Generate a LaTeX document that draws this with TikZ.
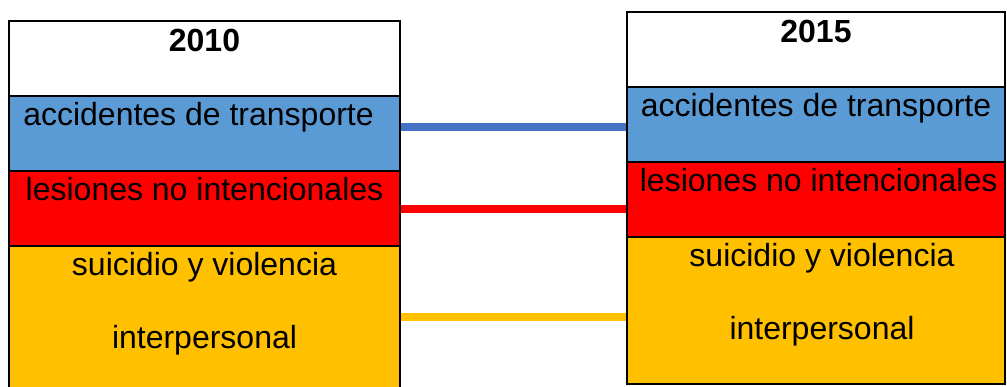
\documentclass[tikz,border=0pt]{standalone}
\usepackage{fontspec}
\setmainfont{Liberation Sans}
\usetikzlibrary{positioning}

\definecolor{bandblue}{HTML}{5B9BD5}
\definecolor{linkblue}{HTML}{4472C4}
\definecolor{bandred}{HTML}{FF0000}
\definecolor{bandyellow}{HTML}{FFC000}

\begin{document}
\begin{tikzpicture}[%
        x=0.75pt, y=-0.75pt,
        box/.style={rectangle, draw=black, line width=1.5pt, outer sep=0pt, inner sep=0pt, minimum height=56.25pt},
        left/.style={box, minimum width=293.25pt},
        right/.style={box, minimum width=283.5pt},
        head/.style={font=\fontsize{24}{28}\selectfont\bfseries, anchor=base},
        lbl/.style={font=\fontsize{24}{28}\selectfont, anchor=base},
        link/.style={line width=6pt, shorten <=0.75pt, shorten >=0.75pt}]
        \useasboundingbox (0,0) rectangle (1007,386);
        \clip (0,0) rectangle (1007,386);

        % 2010 column
        \node [left, fill=white, anchor=north west] (hdr10) at (9,21) {};
        \node [left, fill=bandblue, below=0pt of hdr10] (acc10) {};
        \node [left, fill=bandred, below=0pt of acc10] (les10) {};
        \node [left, fill=bandyellow, below=0pt of les10, minimum height=106.5pt] (sui10) {};

        % 2015 column
        \node [right, fill=white, anchor=north west] (hdr15) at (627,12) {};
        \node [right, fill=bandblue, below=0pt of hdr15] (acc15) {};
        \node [right, fill=bandred, below=0pt of acc15] (les15) {};
        \node [right, fill=bandyellow, below=0pt of les15, minimum height=110.25pt] (sui15) {};

        % Labels
        \node [head] (yr10) at ([yshift=-23pt]hdr10.north) {2010};
        \node [head] (yr15) at ([yshift=-23pt]hdr15.north) {2015};
        \node [lbl] (acc10txt) at ([xshift=-4.5pt, yshift=-21.75pt]acc10.north) {accidentes de transporte};
        \node [lbl] (acc15txt) at ([yshift=-21.75pt]acc15.north) {accidentes de transporte};
        \node [lbl] (les10txt) at ([yshift=-21.75pt]les10.north) {lesiones no intencionales};
        \node [lbl] (les15txt) at ([xshift=2pt, yshift=-21.75pt]les15.north) {lesiones no intencionales};
        \node [lbl] (sui10txt) at ([yshift=-21.75pt]sui10.north) {suicidio y violencia};
        \node [lbl] (int10txt) at ([yshift=-76.5pt]sui10.north) {interpersonal};
        \node [lbl] (sui15txt) at ([xshift=4.5pt, yshift=-21.75pt]sui15.north) {suicidio y violencia};
        \node [lbl] (int15txt) at ([xshift=4.5pt, yshift=-76.5pt]sui15.north) {interpersonal};

        % Connectors
        \coordinate (accL) at ([yshift=4.875pt]acc10.east);
        \draw [link, draw=linkblue] (accL) -- (accL -| acc15.west);
        \draw [link, draw=bandred] (les10.east) -- (les10.east -| les15.west);
        \draw [link, draw=bandyellow] (sui10.east) -- (sui10.east -| sui15.west);
    \end{tikzpicture}
\end{document}
